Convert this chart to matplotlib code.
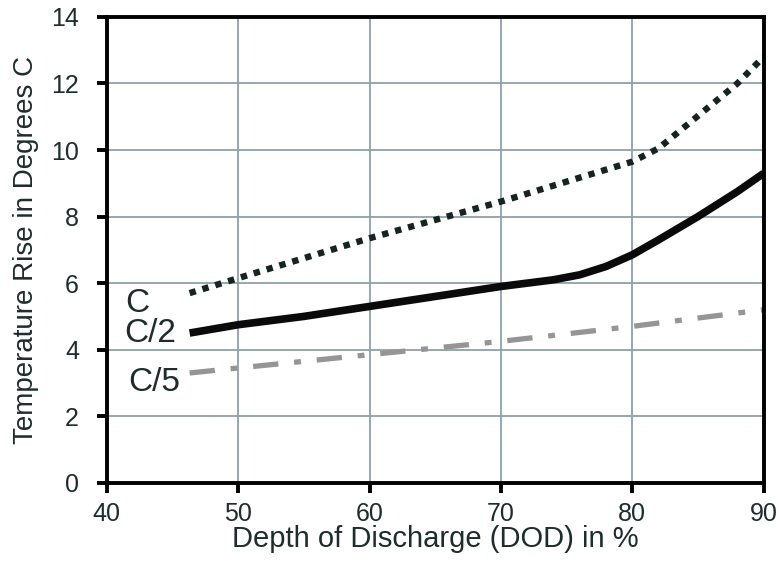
import matplotlib
matplotlib.use("Agg")
import matplotlib.pyplot as plt

# Data
dod_c = [46.3, 50, 55, 60, 65, 70, 75, 80, 82, 84, 86, 88, 90]
temp_c = [5.7, 6.15, 6.75, 7.35, 7.9, 8.45, 9.05, 9.65, 10.05, 10.7, 11.35, 12.0, 12.8]

dod_c2 = [46.3, 50, 55, 60, 65, 70, 74, 76, 78, 80, 82, 85, 88, 90]
temp_c2 = [4.5, 4.75, 5.0, 5.3, 5.6, 5.9, 6.1, 6.25, 6.5, 6.85, 7.3, 8.0, 8.75, 9.3]

dod_c5 = [46.3, 50, 60, 70, 80, 90]
temp_c5 = [3.3, 3.45, 3.85, 4.25, 4.7, 5.2]

x_ticks = [40, 50, 60, 70, 80, 90]
y_ticks = [0, 2, 4, 6, 8, 10, 12, 14]

text_color = "#1e2c2c"
grid_color = "#8fa0ab"

plt.rcParams["font.family"] = ["Liberation Sans", "DejaVu Sans"]

fig = plt.figure(figsize=(7.8, 5.64), dpi=100)
ax = fig.add_axes([0.137, 0.144, 0.842, 0.826])

ax.plot(dod_c, temp_c, color="#142420", linewidth=4.6,
        linestyle=(0, (1.0, 1.1)), dash_capstyle="butt")
ax.plot(dod_c2, temp_c2, color="#0a0a0a", linewidth=5.5,
        solid_capstyle="butt")
ax.plot(dod_c5, temp_c5, color="#959595", linewidth=3.8,
        linestyle=(0, (4.8, 3.0, 1.3, 3.0)), dash_capstyle="butt")

ax.text(41.4, 5.4, "C", fontsize=24, color=text_color, va="center")
ax.text(41.3, 4.5, "C/2", fontsize=24, color=text_color, va="center")
ax.text(41.6, 3.0, "C/5", fontsize=24, color=text_color, va="center")

ax.set_xlim(40, 90)
ax.set_ylim(0, 14)
ax.set_xticks(x_ticks)
ax.set_yticks(y_ticks)
ax.grid(True, color=grid_color, linewidth=1.3)
ax.set_axisbelow(True)

for spine in ax.spines.values():
    spine.set_linewidth(2.8)
    spine.set_color("#000000")

ax.tick_params(axis="both", direction="out", length=7, width=2.8,
               labelsize=18, labelcolor=text_color)
ax.tick_params(axis="x", pad=7)
ax.tick_params(axis="y", pad=13)

ax.set_xlabel("Depth of Discharge (DOD) in %", fontsize=21,
              color=text_color, labelpad=-1)
ax.set_ylabel("Temperature Rise in Degrees C", fontsize=20,
              color=text_color, labelpad=9)

fig.savefig("out.png", dpi=100)
